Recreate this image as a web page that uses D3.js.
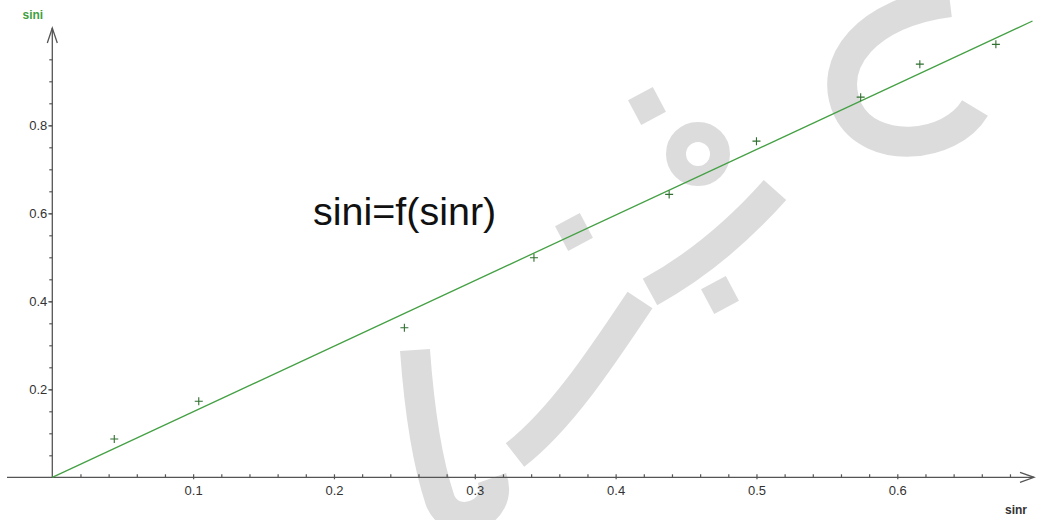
<!DOCTYPE html>
<html>
<head>
<meta charset="utf-8">
<script src="https://cdn.jsdelivr.net/npm/d3@7"></script>
<style>
  body { margin: 0; background: #fff; }
  text { font-family: "Liberation Sans", Arial, sans-serif; }
</style>
</head>
<body>
<div id="chart"></div>
<script>
// measured points (sin r, sin i)
const sinr = [0.044, 0.104, 0.25, 0.342, 0.438, 0.5, 0.574, 0.616, 0.67];
const sini = [0.087, 0.173, 0.34, 0.499, 0.643, 0.764, 0.864, 0.939, 0.984];
// fitted line through origin
const fitSinr = [0, 0.696];
const fitSini = [0, 1.037];
// tick labels
const xTicks = [0.1, 0.2, 0.3, 0.4, 0.5, 0.6];
const yTicks = [0.2, 0.4, 0.6, 0.8];

const width = 1037, height = 520;

const svg = d3.select("#chart")
  .append("svg")
  .attr("width", width)
  .attr("height", height);

const x = d3.scaleLinear().domain([0, 0.6]).range([52.3, 897.3]);
const y = d3.scaleLinear().domain([0, 0.8]).range([477.3, 125.3]);

// watermark shapes (light grey, behind everything)
const wm = svg.append("g")
  .attr("fill", "none")
  .attr("stroke", "#dcdcdc")
  .attr("stroke-width", 30);
wm.append("path").attr("d", "M 975,108 C 950,150 870,155 848,110 C 826,62 868,12 950,2");
wm.append("path").attr("d", "M 775,190 C 735,235 690,270 650,292");
wm.append("circle").attr("cx", 698).attr("cy", 154).attr("r", 22).attr("stroke-width", 20);
wm.append("path").attr("d", "M 640,300 C 600,360 560,420 515,455");
wm.append("path").attr("d", "M 415,350 C 420,420 430,470 440,500 C 452,532 505,515 492,478");
[[647, 106], [574, 232], [720, 295]].forEach(([cx, cy]) => {
  wm.append("rect")
    .attr("x", -14).attr("y", -14).attr("width", 28).attr("height", 28)
    .attr("stroke", "none").attr("fill", "#dcdcdc")
    .attr("transform", `translate(${cx},${cy}) rotate(-28)`);
});

// axis lines with open arrow heads
const axisColor = "#555";
svg.append("line")
  .attr("x1", 7).attr("x2", 1034).attr("y1", y(0)).attr("y2", y(0))
  .attr("stroke", axisColor).attr("stroke-width", 1.3);
svg.append("polyline")
  .attr("points", `1020,${y(0) - 5} 1034,${y(0)} 1020,${y(0) + 5}`)
  .attr("fill", "none").attr("stroke", axisColor).attr("stroke-width", 1.3);
svg.append("line")
  .attr("x1", x(0)).attr("x2", x(0)).attr("y1", y(0)).attr("y2", 28)
  .attr("stroke", axisColor).attr("stroke-width", 1.3);
svg.append("polyline")
  .attr("points", `${x(0) - 5},43 ${x(0)},28 ${x(0) + 5},43`)
  .attr("fill", "none").attr("stroke", axisColor).attr("stroke-width", 1.3);

// minor ticks
const xMinor = svg.append("g")
  .attr("transform", `translate(0,${y(0)})`)
  .call(d3.axisTop(x).tickValues(d3.range(0.02, 0.69, 0.02)).tickSize(3).tickFormat(""));
const yMinor = svg.append("g")
  .attr("transform", `translate(${x(0)},0)`)
  .call(d3.axisLeft(y).tickValues(d3.range(0.05, 0.96, 0.05)).tickSize(3).tickFormat(""));

// labelled ticks
const xAxis = svg.append("g")
  .attr("transform", `translate(0,${y(0)})`)
  .call(d3.axisBottom(x).tickValues(xTicks).tickSize(2).tickPadding(6.5).tickFormat(d3.format(".1f")));
const yAxis = svg.append("g")
  .attr("transform", `translate(${x(0)},0)`)
  .call(d3.axisLeft(y).tickValues(yTicks).tickSize(4).tickPadding(1).tickFormat(d3.format(".1f")));

[xMinor, yMinor, xAxis, yAxis].forEach(g => {
  g.select(".domain").remove();
  g.selectAll("line").attr("stroke", axisColor).attr("stroke-width", 1.2);
  g.selectAll("text")
    .attr("fill", "#333")
    .style("font-size", "13px")
    .style("font-family", "'Liberation Sans', Arial, sans-serif");
});

// axis names
svg.append("text")
  .attr("x", 22.5).attr("y", 19)
  .attr("fill", "#3f9f3f")
  .style("font-size", "12px").style("font-weight", "bold")
  .text("sini");
svg.append("text")
  .attr("x", 1005).attr("y", 514)
  .attr("fill", "#333")
  .style("font-size", "12px").style("font-weight", "bold")
  .text("sinr");

// fitted line
const fit = fitSinr.map((d, i) => ({ x: d, y: fitSini[i] }));
svg.append("path")
  .datum(fit)
  .attr("fill", "none")
  .attr("stroke", "#44a044")
  .attr("stroke-width", 1.3)
  .attr("d", d3.line().x(d => x(d.x)).y(d => y(d.y)));

// measured points as plus marks
const pts = sinr.map((d, i) => ({ x: d, y: sini[i] }));
svg.append("g")
  .selectAll("path")
  .data(pts)
  .join("path")
  .attr("transform", d => `translate(${x(d.x)},${y(d.y)})`)
  .attr("d", "M-4,0H4M0,-4V4")
  .attr("stroke", "#2f6f2f")
  .attr("stroke-width", 1.1);

// title inside plot
svg.append("text")
  .attr("x", 313).attr("y", 225)
  .attr("fill", "#111")
  .style("font-size", "39.5px")
  .text("sini=f(sinr)");
</script>
</body>
</html>
